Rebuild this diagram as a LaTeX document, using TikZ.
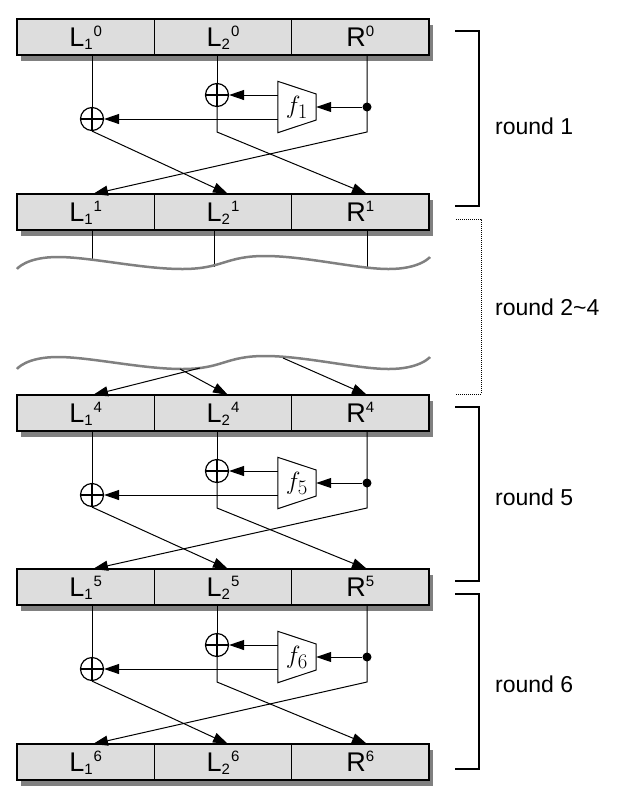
\documentclass[tikz,border=0pt]{standalone}
\usepackage[no-math]{fontspec}
\setmainfont{Liberation Sans}
\usetikzlibrary{arrows.meta,positioning,calc,shadows}
\definecolor{cellgray}{RGB}{221,221,221}
\definecolor{shade}{RGB}{128,128,128}
\definecolor{wavegray}{RGB}{128,128,128}
\newcommand{\subsz}{\fontsize{15}{15}\selectfont}
\newcommand{\lreg}[2]{L\raisebox{-3pt}{\subsz #1}\kern1pt\raisebox{10pt}{\subsz #2}}
\newcommand{\rreg}[1]{R\raisebox{10pt}{\subsz #1}}
\tikzset{
  cell/.style   = {draw, line width=1.2pt, fill=cellgray, minimum width=137.33pt,
                   minimum height=36pt, inner sep=0pt, outer sep=0pt,
                   text height=19.3pt, text depth=0pt, font=\fontsize{27}{31}\selectfont,
                   drop shadow={shadow xshift=4pt, shadow yshift=-6pt, fill=shade, opacity=1}},
  xorop/.style  = {circle, draw, line width=1.2pt, fill=white, minimum size=23pt, inner sep=0pt,
                   path picture={\draw[line width=2pt]
                     (path picture bounding box.west) -- (path picture bounding box.east)
                     (path picture bounding box.north) -- (path picture bounding box.south);}},
  fslot/.style  = {minimum width=38pt, minimum height=51pt, inner sep=0pt,
                   font=\fontsize{28}{30}\selectfont},
  dot/.style    = {circle, fill, minimum size=9pt, inner sep=0pt},
  wire/.style   = {line width=1pt},
  flow/.style   = {-{Triangle[length=15pt,width=10pt]}, line width=1pt},
  wavy/.style   = {draw=wavegray, line width=2.5pt},
  brace/.style  = {line width=1.2pt},
  roundlbl/.style = {anchor=west, inner sep=0pt, font=\fontsize{23}{27}\selectfont},
}
\begin{document}
\begin{tikzpicture}[x=1pt, y=-1pt]
\useasboundingbox (0,0) rectangle (623,807);
\foreach \r/\t in {0/19,1/194,4/395,5/569,6/744} {
  \node[cell] (L1r\r) at (85.67,\t+18) {\lreg{1}{\r}};
  \node[cell, right=0pt of L1r\r] (L2r\r) {\lreg{2}{\r}};
  \node[cell, right=0pt of L2r\r] (Rr\r) {\rreg{\r}};
}
\foreach \a/\b/\t/\k in {0/1/19/1, 4/5/395/5, 5/6/569/6} {
  \node[xorop] (xb\k) at (217,\t+76) {};
  \node[xorop] (xa\k) at (92,\t+100) {};
  \node[fslot] (f\k) at (297,\t+88) {$f_{\k}$};
  \draw[wire] (f\k.north west) -- ($(f\k.east)+(0,-13)$) -- ($(f\k.east)+(0,13)$)
    -- (f\k.south west) -- cycle;
  \node[dot] (d\k) at (367,\t+88) {};
  \draw[wire] (xa\k |- L1r\a.south) -- (xa\k.north);
  \draw[flow] (xa\k.south) -- (228,0 |- L2r\b.north);
  \draw[wire] (xb\k |- L2r\a.south) -- (xb\k.north);
  \draw[flow] (xb\k.south) -- (217,\t+113) -- (367,0 |- Rr\b.north);
  \draw[flow] (d\k |- Rr\a.south) -- (367,\t+113) -- (93,0 |- L1r\b.north);
  \draw[flow] (d\k) -- (f\k.east);
  \draw[flow] (xb\k -| f\k.west) -- (xb\k.east);
  \draw[flow] (xa\k -| f\k.west) -- (xa\k.east);
}
% rounds 2 to 4 left out
\draw[wire] (92,0 |- L1r1.south) -- (92,259);
\draw[wire] (214,0 |- L2r1.south) -- (214,267);
\draw[wire] (367,0 |- Rr1.south) -- (367,269);
\draw[wavy] plot[smooth, tension=0.7] coordinates
  {(17,269) (58,257) (183,269) (265,256) (388,269) (430,257)};
\draw[wavy] plot[smooth, tension=0.7] coordinates
  {(17,369) (58,357) (183,369) (265,356) (388,369) (430,357)};
\coordinate (w1) at (200,368);
\coordinate (w2) at (180,369);
\coordinate (w3) at (283,358);
\draw[flow] (w1) -- (93,0 |- L1r4.north);
\draw[flow] (w2) -- (228,0 |- L2r4.north);
\draw[flow] (w3) -- (367,0 |- Rr4.north);
\draw[brace] (455,31) -| (479,206) -- (455,206);
\node[roundlbl] (rd1) at (495,126) {round 1};
\draw[line width=1pt, dash pattern=on 1pt off 1pt] (456,219) -| (481,394) -- (456,394);
\node[roundlbl] (rd24) at (495,307) {round 2\textasciitilde 4};
\draw[brace] (455,407) -| (479,581) -- (455,581);
\node[roundlbl] (rd5) at (495,497) {round 5};
\draw[brace] (455,594) -| (479,769) -- (455,769);
\node[roundlbl] (rd6) at (495,684) {round 6};
\end{tikzpicture}
\end{document}
